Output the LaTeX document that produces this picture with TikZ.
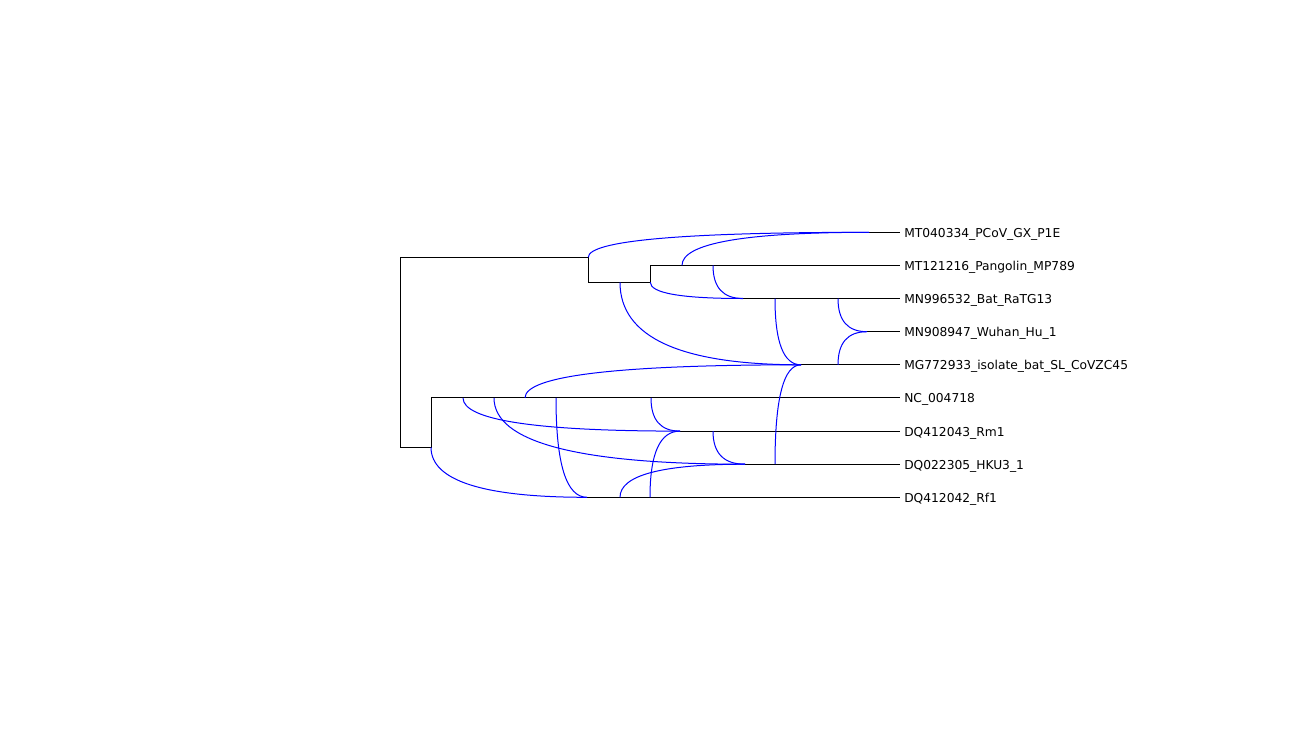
\documentclass[tikz,border=0pt]{standalone}
\usepackage{fontspec}
\setmainfont{DejaVu Sans}
\usetikzlibrary{calc}
\begin{document}
\begin{tikzpicture}[x=0.75pt,y=-0.75pt,
  tree/.style={draw=black,line width=0.75pt},
  ret/.style={draw=blue,line width=0.75pt,
    to path={.. controls ($(\tikztostart)!2/3!(\tikztostart|-\tikztotarget)$) and ($(\tikztotarget)!2/3!(\tikztostart|-\tikztotarget)$) .. (\tikztotarget)}},
  taxon/.style={anchor=base west,inner sep=0pt,font=\fontsize{9.2}{11}\selectfont}]
\useasboundingbox (0,0) rectangle (1300,729);
% leaf rows
\foreach \i/\yy in {1/232.3,2/265.4,3/298.5,4/331.7,5/364.8,6/397.9,7/431.1,8/464.2,9/497.3}{
  \coordinate (e\i) at (900,\yy);
}
\node[taxon] (l1) at (904,237.3) {MT040334\_PCoV\_GX\_P1E};
\node[taxon] (l2) at (904,270.4) {MT121216\_Pangolin\_MP789};
\node[taxon] (l3) at (904,303.5) {MN996532\_Bat\_RaTG13};
\node[taxon] (l4) at (904,336.7) {MN908947\_Wuhan\_Hu\_1};
\node[taxon] (l5) at (904,369.8) {MG772933\_isolate\_bat\_SL\_CoVZC45};
\node[taxon] (l6) at (904,402.9) {NC\_004718};
\node[taxon] (l7) at (904,436.1) {DQ412043\_Rm1};
\node[taxon] (l8) at (904,469.2) {DQ022305\_HKU3\_1};
\node[taxon] (l9) at (904,502.3) {DQ412042\_Rf1};
% tree nodes
\coordinate (r1) at (400.5,257.3);
\coordinate (r2) at (400.5,447.3);
\coordinate (a1) at (588.3,257.3);
\coordinate (a2) at (588.3,282.3);
\coordinate (b1) at (650.3,265.4);
\coordinate (b2) at (650.3,282.3);
\coordinate (c1) at (431,397.9);
\coordinate (c2) at (431,447.3);
% reticulation nodes
\coordinate (h1) at (869,232.3);
\coordinate (h3) at (743,298.5);
\coordinate (h4) at (867,331.7);
\coordinate (h5) at (801,364.8);
\coordinate (h7) at (680,431.1);
\coordinate (h8) at (745,464.2);
\coordinate (h9) at (587,497.3);
% branch-off points
\coordinate (p1) at (620,282.3);
\coordinate (p2) at (682,265.4);
\coordinate (p3) at (713,265.4);
\coordinate (p4) at (775,298.5);
\coordinate (p5) at (838,298.5);
\coordinate (p6) at (838,364.8);
\coordinate (p7) at (463,397.9);
\coordinate (p8) at (494,397.9);
\coordinate (p9) at (525,397.9);
\coordinate (p10) at (556,397.9);
\coordinate (p11) at (651,397.9);
\coordinate (p12) at (713,431.1);
\coordinate (p13) at (775,464.2);
\coordinate (p14) at (620,497.3);
\coordinate (p15) at (650,497.3);
% tree edges
\draw[tree] (a1) -- (r1) -- (r2) -- (c2) -- (c1) -- (e6);
\draw[tree] (a1) -- (a2) -- (b2) -- (b1) -- (e2);
\draw[tree] (h1) -- (e1);
\draw[tree] (h3) -- (e3);
\draw[tree] (h4) -- (e4);
\draw[tree] (h5) -- (e5);
\draw[tree] (h7) -- (e7);
\draw[tree] (h8) -- (e8);
\draw[tree] (h9) -- (e9);
% reticulate edges
\draw[ret] (a1) to (h1);
\draw[ret] (p2) to (h1);
\draw[ret] (b2) to (h3);
\draw[ret] (p3) to (h3);
\draw[ret] (p5) to (h4);
\draw[ret] (p6) to (h4);
\draw[ret] (p1) to (h5);
\draw[ret] (p4) to (h5);
\draw[ret] (p9) to (h5);
\draw[ret] (p13) to (h5);
\draw[ret] (p7) to (h7);
\draw[ret] (p11) to (h7);
\draw[ret] (p15) to (h7);
\draw[ret] (p8) to (h8);
\draw[ret] (p12) to (h8);
\draw[ret] (p14) to (h8);
\draw[ret] (c2) to (h9);
\draw[ret] (p10) to (h9);
\end{tikzpicture}
\end{document}
